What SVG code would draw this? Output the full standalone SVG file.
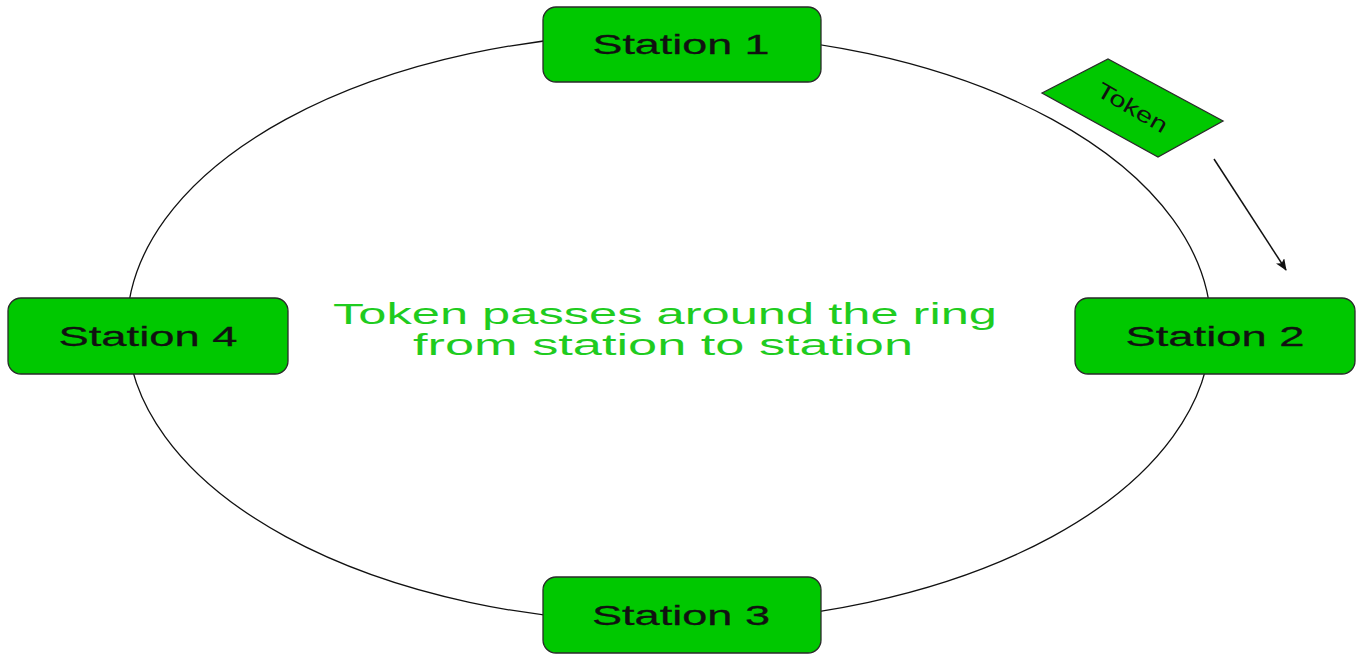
<svg xmlns="http://www.w3.org/2000/svg" width="1363" height="658" viewBox="0 0 1363 658">
  <defs>
    <style>
      .station rect { fill: #00c800; stroke: #2a2a2a; stroke-width: 1.3; }
      .label { font-family: "Liberation Sans", Arial, sans-serif; font-size: 28px; fill: #111; stroke: #111; stroke-width: 0.3; text-anchor: middle; }
      .ring { fill: none; stroke: #111; stroke-width: 1.3; }
      .caption { font-family: "Liberation Sans", Arial, sans-serif; font-size: 29px; fill: #1fcc1f; text-anchor: middle; }
      .flow { stroke: #111; stroke-width: 1.5; fill: none; }
    </style>
    <marker id="arrowhead" viewBox="0 0 12 10" refX="11" refY="5" markerWidth="12" markerHeight="10" markerUnits="userSpaceOnUse" orient="auto">
      <path d="M0,0 L12,5 L0,10 L3,5 Z" fill="#111"/>
    </marker>
  </defs>

  <!-- ring connecting the stations -->
  <g id="connectors">
    <ellipse class="ring" cx="669" cy="328" rx="542" ry="295"/>
    <line class="flow" x1="1214" y1="159" x2="1286" y2="270" marker-end="url(#arrowhead)"/>
  </g>

  <g id="station1" class="station">
    <rect x="543" y="7" width="278" height="75" rx="13"/>
    <text class="label" x="681" y="54" textLength="177" lengthAdjust="spacingAndGlyphs">Station 1</text>
  </g>

  <g id="station2" class="station">
    <rect x="1075" y="298" width="280" height="76" rx="13"/>
    <text class="label" x="1215" y="346" textLength="179" lengthAdjust="spacingAndGlyphs">Station 2</text>
  </g>

  <g id="station3" class="station">
    <rect x="543" y="577" width="278" height="76" rx="13"/>
    <text class="label" x="681" y="625" textLength="178" lengthAdjust="spacingAndGlyphs">Station 3</text>
  </g>

  <g id="station4" class="station">
    <rect x="8" y="298" width="280" height="76" rx="13"/>
    <text class="label" x="148" y="346" textLength="179" lengthAdjust="spacingAndGlyphs">Station 4</text>
  </g>

  <g id="token">
    <polygon points="1042,93 1108,59 1223,121 1158,157" fill="#00c800" stroke="#2a2a2a" stroke-width="1.3"/>
    <text x="1132" y="115" transform="rotate(30 1132 108)" font-family="'Liberation Sans', Arial, sans-serif" font-size="22" fill="#111" text-anchor="middle" textLength="78" lengthAdjust="spacingAndGlyphs">Token</text>
  </g>

  <g id="caption">
    <text class="caption" x="665" y="324" textLength="664" lengthAdjust="spacingAndGlyphs">Token passes around the ring</text>
    <text class="caption" x="663" y="355" textLength="500" lengthAdjust="spacingAndGlyphs">from station to station</text>
  </g>
</svg>
